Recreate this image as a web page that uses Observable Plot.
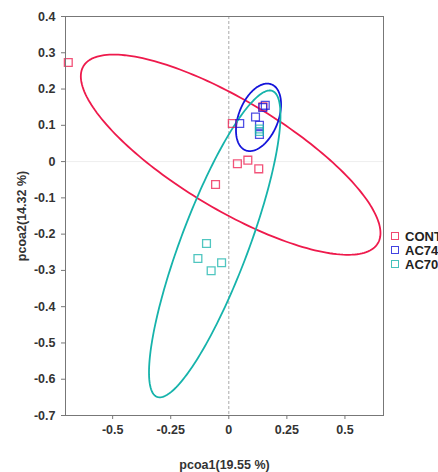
<!DOCTYPE html>
<html>
<head>
<meta charset="utf-8">
<script src="https://cdn.jsdelivr.net/npm/d3@7"></script>
<script src="https://cdn.jsdelivr.net/npm/@observablehq/plot@0.6"></script>
<style>
  html, body { margin: 0; padding: 0; background: #fff; overflow: hidden; }
  #wrap { position: relative; width: 438px; height: 472px; }
  #legend { position: absolute; left: 391px; top: 229px; font-family: "Liberation Sans", Arial, sans-serif; font-weight: bold; font-size: 13px; color: #222; white-space: nowrap; }
  .row { display: flex; align-items: center; height: 14px; }
  .sw { width: 6px; height: 6px; border: 1.4px solid; margin-right: 6px; opacity: 0.8; }
</style>
</head>
<body>
<div id="wrap"><div id="chart"></div><div id="legend"></div></div>
<script>
// ---- data ----
const groups = ["CONT", "AC74", "AC70"];
const colors = ["#EE1A4C", "#1414DA", "#16B3AB"];

const contX = [-0.691, -0.057, 0.015, 0.037, 0.082, 0.129, 0.147];
const contY = [0.273, -0.063, 0.105, -0.006, 0.004, -0.020, 0.151];
const ac74X = [0.047, 0.115, 0.146, 0.157, 0.132, 0.132];
const ac74Y = [0.105, 0.123, 0.149, 0.155, 0.100, 0.075];
const ac70X = [-0.096, -0.133, -0.031, -0.076, 0.132, 0.132];
const ac70Y = [-0.226, -0.267, -0.279, -0.301, 0.090, 0.083];

// ellipse parameters per group (centre, half-extents, y offset of rightmost point)
const ellCx = [0.008, 0.128, -0.0605];
const ellCy = [0.019, 0.122, -0.227];
const ellRx = [0.645, 0.097, 0.283];
const ellRy = [0.276, 0.093, 0.423];
const ellDy = [-0.216, 0.036, 0.354];

const ticksX = [-0.5, -0.25, 0, 0.25, 0.5];
const ticksY = [0.4, 0.3, 0.2, 0.1, 0, -0.1, -0.2, -0.3, -0.4, -0.5, -0.6, -0.7];
const xLabel = "pcoa1(19.55 %)";
const yLabel = "pcoa2(14.32 %)";

// ---- build tables ----
const pts = [];
[[contX, contY], [ac74X, ac74Y], [ac70X, ac70Y]].forEach(([xs, ys], gi) => {
  xs.forEach((x, i) => pts.push({group: groups[gi], x, y: ys[i]}));
});
const ell = [];
groups.forEach((g, gi) => {
  const rx = ellRx[gi], d = ellDy[gi], b = Math.sqrt(ellRy[gi] ** 2 - d * d);
  for (let k = 0; k <= 200; k++) {
    const t = (k / 200) * 2 * Math.PI;
    ell.push({group: g, x: ellCx[gi] + rx * Math.cos(t), y: ellCy[gi] + d * Math.cos(t) + b * Math.sin(t)});
  }
});

const chart = Plot.plot({
  width: 438,
  height: 472,
  marginLeft: 65,
  marginRight: 55,
  marginTop: 16,
  marginBottom: 57,
  style: {fontFamily: "Liberation Sans, Arial, sans-serif", fontSize: "12.5px", fontWeight: "bold", color: "#333", background: "#fff"},
  x: {domain: [-0.703, 0.666]},
  y: {domain: [-0.7, 0.4]},
  color: {domain: groups, range: colors},
  marks: [
    Plot.ruleY([0], {stroke: "#eeeeee", strokeWidth: 1}),
    Plot.ruleX([0], {stroke: "#aaaaaa", strokeDasharray: "3,2", strokeWidth: 1}),
    Plot.line(ell, {x: "x", y: "y", z: "group", stroke: "group", strokeWidth: 1.8, curve: "linear"}),
    Plot.dot(pts, {x: "x", y: "y", stroke: "group", symbol: "square", r: 4.4, strokeWidth: 1.3, strokeOpacity: 0.75, fill: "none"}),
    Plot.frame({stroke: "#777", strokeWidth: 1}),
    Plot.axisX(ticksX, {tickSize: 4, tickPadding: 6, tickFormat: d => String(d), stroke: "#777", label: null}),
    Plot.axisY(ticksY, {tickSize: 4, tickPadding: 6, tickFormat: d => String(d), stroke: "#777", label: null}),
    Plot.text([xLabel], {frameAnchor: "bottom", dy: 53, fontSize: 12.5, fontWeight: "bold", fill: "#333"}),
    Plot.text([yLabel], {frameAnchor: "left", textAnchor: "middle", dx: -44, rotate: -90, fontSize: 12.5, fontWeight: "bold", fill: "#333"})
  ]
});
document.getElementById("chart").appendChild(chart);

const legend = document.getElementById("legend");
groups.forEach((g, i) => {
  const row = document.createElement("div");
  row.className = "row";
  const sw = document.createElement("span");
  sw.className = "sw";
  sw.style.borderColor = colors[i];
  const tx = document.createElement("span");
  tx.textContent = g;
  row.appendChild(sw); row.appendChild(tx);
  legend.appendChild(row);
});
</script>
</body>
</html>
